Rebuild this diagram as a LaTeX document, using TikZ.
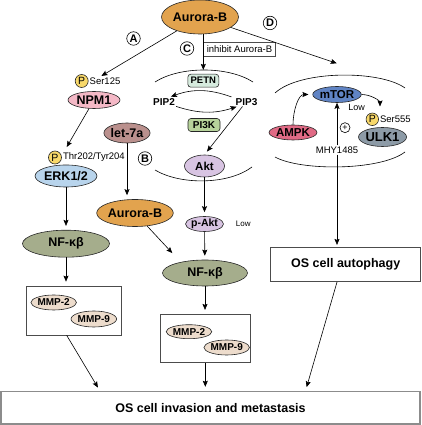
\documentclass[tikz,border=0pt]{standalone}
\usepackage{fontspec}
\setmainfont{Liberation Sans}
\usepackage{tikz}
\usetikzlibrary{shapes.geometric, arrows.meta, calc}

\definecolor{aurora}{RGB}{226,163,78}
\definecolor{npmpink}{RGB}{244,184,198}
\definecolor{erkblue}{RGB}{184,212,236}
\definecolor{nfkbgreen}{RGB}{165,173,140}
\definecolor{mmpbeige}{RGB}{237,220,204}
\definecolor{letbrown}{RGB}{186,144,141}
\definecolor{petnmint}{RGB}{214,235,222}
\definecolor{pikgreen}{RGB}{183,211,155}
\definecolor{aktlilac}{RGB}{216,196,226}
\definecolor{mtorblue}{RGB}{96,132,196}
\definecolor{ampkred}{RGB}{224,106,133}
\definecolor{ulkgray}{RGB}{141,155,167}
\definecolor{phosyellow}{RGB}{248,216,106}

\begin{document}
\begin{tikzpicture}[x=1pt, y=1pt,
                prot/.style={draw=black!85, ellipse, inner sep=0pt, line width=0.6pt},
                rbox/.style={draw=black!85, rectangle, rounded corners=3pt, inner sep=0pt, line width=0.6pt},
                frame/.style={draw=black!70, rectangle, inner sep=0pt, line width=0.7pt},
                tag/.style={draw=black, circle, fill=white, minimum size=13.5pt, inner sep=0pt, line width=0.6pt, font=\fontsize{11}{11}\selectfont\bfseries},
                phos/.style={draw=black!85, circle, fill=phosyellow, minimum size=13pt, inner sep=0pt, line width=0.6pt, font=\fontsize{10.5}{10}\selectfont},
                varlabel/.style={font=\fontsize{9.5}{10}\selectfont, inner sep=1pt},
                bigfont/.style={font=\fontsize{12.5}{14}\selectfont\bfseries},
                midfont/.style={font=\fontsize{11.5}{13}\selectfont\bfseries},
                smallfont/.style={font=\fontsize{10}{11}\selectfont\bfseries},
                edge/.style={-{Stealth[length=6pt, width=5pt, inset=1pt]}, line width=0.6pt, shorten >=4pt},
                membrane/.style={line width=0.6pt}
            ]
            \useasboundingbox (0,0) rectangle (421,425);

            % Membranen
            \draw[membrane] (155,343) .. controls (180,359) and (228,359) .. (253,343);
            \draw[membrane] (155,255) .. controls (180,240) and (228,240) .. (252,258);
            \draw[membrane] (275,332) .. controls (300,355) and (380,355) .. (405,337);
            \draw[membrane] (275,268) .. controls (300,254) and (380,254) .. (405,273);

            % Knoten
            \node[prot, fill=aurora, bigfont, minimum width=77pt, minimum height=34pt] (aurA) at (200,408) {Aurora-B};
            \node[frame, varlabel, minimum width=72.5pt, minimum height=14pt] (inhib) at (239.5,376) {inhibit Aurora-B};
            \node[tag] (tA) at (133.5,386.5) {A};
            \node[tag] (tB) at (145,266.5) {B};
            \node[tag] (tC) at (187,376.5) {C};
            \node[tag] (tD) at (270,402) {D};

            \node[prot, fill=npmpink, bigfont, minimum width=52pt, minimum height=17pt] (npm1) at (94,325) {NPM1};
            \node[phos, label={[varlabel]right:Ser125}] (pNpm) at (81.7,344) {P};
            \node[prot, fill=erkblue, bigfont, minimum width=51pt, minimum height=22pt] (erk) at (66,249) {ERK1/2};
            \node[phos, label={[varlabel]right:Thr202/Tyr204}] (pErk) at (55,267.5) {P};
            \node[prot, fill=nfkbgreen, bigfont, minimum width=87pt, minimum height=27pt] (nfkb1) at (66,181.3) {NF-κβ};
            \node[frame, minimum width=95pt, minimum height=49pt] (mmpL) at (74.2,114.5) {};
            \node[prot, fill=mmpbeige, smallfont, minimum width=43pt, minimum height=15pt] (mmp2L) at (53.7,122.5) {MMP-2};
            \node[prot, fill=mmpbeige, smallfont, minimum width=42pt, minimum height=16pt] (mmp9L) at (93.8,106) {MMP-9};

            \node[rbox, fill=petnmint, font=\fontsize{9.5}{10}\selectfont\bfseries, minimum width=31pt, minimum height=13pt] (petn) at (203.3,344.3) {PETN};
            \node[smallfont, inner sep=1pt] (pip2) at (164,323.3) {PIP2};
            \node[smallfont, inner sep=1pt] (pip3) at (246.5,323.3) {PIP3};
            \node[rbox, fill=pikgreen, smallfont, minimum width=32pt, minimum height=13pt] (pi3k) at (204,300) {PI3K};
            \node[prot, fill=aktlilac, midfont, minimum width=40pt, minimum height=22pt] (akt) at (204.5,259) {Akt};
            \node[prot, fill=letbrown, bigfont, minimum width=42pt, minimum height=20pt] (let7a) at (127,292) {let-7a};
            \node[prot, fill=aurora, bigfont, minimum width=64pt, minimum height=27pt] (aurB) at (135,212) {Aurora-B};
            \node[prot, fill=aktlilac, font=\fontsize{10.5}{12}\selectfont\bfseries, minimum width=32pt, minimum height=15pt,
                  label={[varlabel, font=\fontsize{8}{9}\selectfont, xshift=11pt]right:Low}] (pakt) at (204.5,201) {p-Akt};
            \node[prot, fill=nfkbgreen, bigfont, minimum width=85pt, minimum height=26pt] (nfkb2) at (205,152) {NF-κβ};
            \node[frame, minimum width=89.3pt, minimum height=48.4pt] (mmpM) at (205.3,86.5) {};
            \node[prot, fill=mmpbeige, smallfont, minimum width=45pt, minimum height=14pt] (mmp2M) at (189,93.3) {MMP-2};
            \node[prot, fill=mmpbeige, smallfont, minimum width=43.5pt, minimum height=15pt] (mmp9M) at (226.7,77.5) {MMP-9};

            \node[prot, fill=mtorblue, midfont, minimum width=46pt, minimum height=16pt] (mtor) at (337,330.5) {mTOR};
            \node[prot, fill=ampkred, midfont, minimum width=42pt, minimum height=15pt] (ampk) at (293,292.5) {AMPK};
            \node[prot, fill=ulkgray, font=\fontsize{13}{14}\selectfont\bfseries, minimum width=45pt, minimum height=19pt] (ulk1) at (382.5,288) {ULK1};
            \node[phos, minimum size=12.5pt, label={[varlabel]right:Ser555}] (pUlk) at (372.3,305.7) {P};
            \node[tag, minimum size=10pt, font=\fontsize{9}{9}\selectfont] (plus) at (345,297.3) {+};
            \node[varlabel] (mhy) at (337,275) {MHY1485};
            \node[varlabel, font=\fontsize{9}{10}\selectfont] (lowM) at (356.7,317.3) {Low};
            \node[frame, bigfont, minimum width=150pt, minimum height=34.4pt] (auto) at (345.7,160.5) {OS cell autophagy};
            \node[frame, draw=black!45, line width=1.3pt, bigfont, minimum width=419pt, minimum height=32.5pt] (final) at (210.5,17.3) {OS cell invasion and metastasis};

            % freie Enden
            \coordinate (inNpm) at (98,347);
            \coordinate (inMtor) at (340.5,360.4);
            \coordinate (inErk) at (64.7,274.5);
            \coordinate (inNfkb) at (175,169);
            \coordinate (toUlk) at (380,314.5);
            \coordinate (inFin1) at (100,34);
            \coordinate (inFin3) at (305.5,34);

            % Kanten zwischen Knoten
            \draw[edge] (aurA.south -| petn.north) -- (petn.north);
            \draw[edge] (aurA) -- (inNpm);
            \draw[edge] (aurA) -- (inMtor);
            \draw[edge] (npm1) -- (inErk);
            \draw[edge] (erk) -- (nfkb1);
            \draw[edge] (nfkb1) -- (nfkb1 |- mmpL.north);
            \draw[edge] ([xshift=-7.5pt]mmpL.south) -- (inFin1);

            \draw[edge, shorten >=1pt] ([xshift=-3pt]pip3.north west) to[bend right=20] ([xshift=6pt]pip2.north);
            \draw[edge, shorten >=1pt] (pip2.south east) to[bend right=18] ([xshift=3pt]pip3.south west);
            \draw[edge] (pip3.230) -- (akt.north);
            \draw[edge] (akt) -- (pakt);
            \draw[edge] (pakt) -- (nfkb2);
            \draw[edge] (let7a.south) -- (let7a.south |- aurB.north);
            \draw[edge] (aurB) -- (inNfkb);
            \draw[edge] (nfkb2) -- (nfkb2 |- mmpM.north);
            \draw[edge] (mmpM) -- (mmpM |- final.north);

            \draw[edge] (ampk.north) to[out=90, in=180] (mtor.west);
            \draw[edge] (mtor.east) to[out=0, in=90] (toUlk);
            \draw[edge, shorten >=0pt] (mhy) -- (mtor);
            \draw[edge, shorten >=2pt] (mhy) -- (mhy |- auto.north);
            \draw[edge] (auto.south -| mhy) -- (inFin3);

        \end{tikzpicture}
\end{document}
